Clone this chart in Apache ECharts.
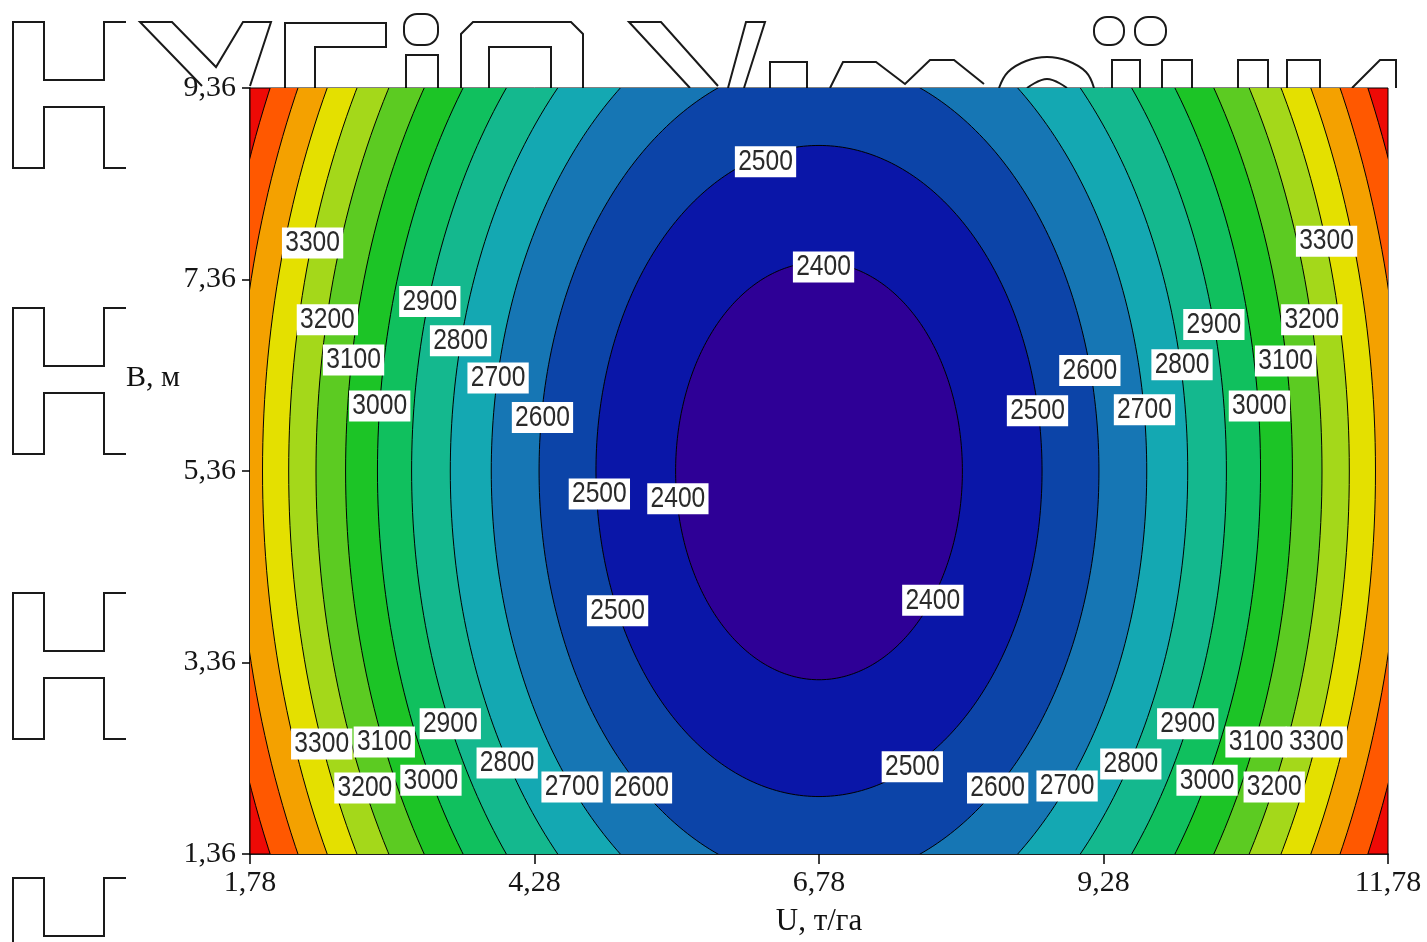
<!DOCTYPE html>
<html><head><meta charset="utf-8">
<script src="https://cdn.jsdelivr.net/npm/echarts@6/dist/echarts.min.js"></script>
<style>html,body{margin:0;padding:0;background:#fff}#c{width:1427px;height:942px}</style>
</head><body><div id="c"></div>
<script>
// ---- data ----
const centerU = 6.78, centerB = 5.36;               // centre of the elliptic contours
const levels = [3600, 3500, 3400, 3300, 3200, 3100, 3000, 2900, 2800, 2700, 2600, 2500, 2400];
const semiU  = [5.34, 5.12, 4.89, 4.66, 4.42, 4.16, 3.88, 3.58, 3.24, 2.88, 2.46, 1.96, 1.26];
const semiB  = [9.32, 8.94, 8.55, 8.15, 7.72, 7.25, 6.76, 6.24, 5.67, 5.03, 4.29, 3.40, 2.18];
const outsideColor = '#EE0A06';
const bandColors = ['#FF5800', '#F4A100', '#E4E000', '#A4D81A', '#5CCB22', '#1CC426',
                    '#10C05E', '#14B88E', '#14A8B2', '#1676B4', '#0C44A8', '#0A16A8', '#2E0096'];
const labelU = [2.33, 2.46, 2.69, 2.92, 3.36, 3.63, 3.96, 4.35, 4.85, 5.54, 6.31, 6.82, 5.01, 7.78,
                11.24, 11.11, 10.88, 10.65, 10.25, 9.97, 9.64, 9.16, 8.70,
                2.41, 2.96, 3.54, 2.79, 3.37, 4.04, 4.61, 5.22,
                7.60, 8.35, 8.96, 9.52, 10.02, 10.62, 11.15, 10.19, 10.78];
const labelB = [7.74, 6.94, 6.52, 6.04, 7.13, 6.72, 6.33, 5.92, 5.12, 5.07, 8.59, 7.49, 3.90, 4.01,
                7.76, 6.94, 6.51, 6.04, 6.89, 6.47, 6.00, 6.41, 5.99,
                2.51, 2.53, 2.72, 2.05, 2.13, 2.31, 2.06, 2.05,
                2.27, 2.05, 2.07, 2.30, 2.72, 2.53, 2.53, 2.13, 2.06];
const labelText = ['3300','3200','3100','3000','2900','2800','2700','2600','2500','2400','2500','2400','2500','2400',
                   '3300','3200','3100','3000','2900','2800','2700','2600','2500',
                   '3300','3100','2900','3200','3000','2800','2700','2600',
                   '2500','2600','2700','2800','2900','3100','3300','3000','3200'];
const uMin = 1.78, uMax = 11.78, uStep = 2.5;
const bMin = 1.36, bMax = 9.36, bStep = 2;
const uName = 'U, т/га', bName = 'B, м';

// ---- chart ----
const chart = echarts.init(document.getElementById('c'), null, {renderer: 'canvas'});
const comma = v => v.toFixed(2).replace('.', ',');
const serif = '"Liberation Serif", "Times New Roman", serif';

// background outlined glyph fragments (decoration of the scanned page)
function hShape(t) {
  return [[126,t],[104,t],[104,t+58],[44,t+58],[44,t],[13,t],[13,t+146],[44,t+146],[44,t+85],[104,t+85],[104,t+146],[126,t+146]];
}
const decoLines = [
  hShape(22), hShape(308), hShape(593), hShape(878),
  [[202,86],[140,22],[172,22],[216,67],[243,22],[271,22],[250,86]],
  [[315,88],[315,47],[386,47],[386,23],[285,23],[285,88]],
  [[406,88],[406,55],[438,55],[438,88]],
  [[461,88],[461,34],[473,22],[571,22],[583,34],[583,88]],
  [[489,88],[489,47],[551,47],[551,88]],
  [[690,88],[629,22],[661,22],[718,86]],
  [[728,88],[746,22],[765,22],[744,88]],
  [[770,88],[770,62],[807,62],[807,88]],
  [[830,88],[843,62],[876,62],[905,84],[930,60],[954,60],[984,84]],
  [[1112,88],[1112,60],[1140,60],[1140,88]],
  [[1162,88],[1162,60],[1192,60],[1192,88]],
  [[1238,88],[1238,60],[1268,60],[1268,88]],
  [[1287,88],[1287,60],[1320,60],[1320,88]],
  [[1352,88],[1380,60],[1396,60],[1396,88]]
];
const graphics = decoLines.map(p => ({type: 'polyline', z: 0, silent: true,
  shape: {points: p}, style: {stroke: '#1a1a1a', lineWidth: 2, fill: null}}));
graphics.push({type: 'polyline', z: 0, silent: true, shape: {points: [[999,88],[1008,72],[1026,61],[1047,57],[1068,61],[1086,72],[1094,88]], smooth: 0.4}, style: {stroke: '#1a1a1a', lineWidth: 2, fill: null}});
graphics.push({type: 'polyline', z: 0, silent: true, shape: {points: [[1027,88],[1047,79],[1067,88]], smooth: 0.4}, style: {stroke: '#1a1a1a', lineWidth: 2, fill: null}});
[[404,14,34,31],[1094,17,30,28],[1135,17,31,28]].forEach(r => graphics.push({type: 'rect', z: 0, silent: true,
  shape: {x: r[0], y: r[1], width: r[2], height: r[3], r: 13}, style: {stroke: '#1a1a1a', lineWidth: 2, fill: null}}));
// y axis title, placed as in the original (above the middle tick)
graphics.push({type: 'text', z: 5, left: 126, top: 363, silent: true,
  style: {text: bName, font: '30px ' + serif, fill: '#111'}});

const ellipseData = levels.map((l, i) => [centerU, centerB, semiU[i], semiB[i], i]);
const labelData = labelText.map((t, i) => [labelU[i], labelB[i], t]);

chart.setOption({
  animation: false,
  backgroundColor: '#fff',
  graphic: graphics,
  grid: {left: 250, right: 39, top: 88, bottom: 86, show: true, backgroundColor: outsideColor,
         borderColor: '#000', borderWidth: 1, z: 1},
  xAxis: {type: 'value', min: uMin, max: uMax, interval: uStep,
    name: uName, nameLocation: 'middle', nameGap: 52,
    nameTextStyle: {fontFamily: serif, fontSize: 31, color: '#111'},
    axisLine: {show: true, onZero: false, lineStyle: {color: '#000', width: 1.5}},
    axisTick: {show: true, length: 10, lineStyle: {color: '#000', width: 1.5}},
    axisLabel: {formatter: comma, fontFamily: serif, fontSize: 30, color: '#151515', margin: 14,
                showMinLabel: true, showMaxLabel: true},
    splitLine: {show: false}},
  yAxis: {type: 'value', min: bMin, max: bMax, interval: bStep,
    axisLine: {show: true, onZero: false, lineStyle: {color: '#000', width: 1.5}},
    axisTick: {show: true, length: 8, lineStyle: {color: '#000', width: 1.5}},
    axisLabel: {formatter: comma, fontFamily: serif, fontSize: 30, color: '#151515', margin: 14,
                showMinLabel: true, showMaxLabel: true},
    splitLine: {show: false}},
  series: [
    {type: 'custom', clip: true, z: 2, silent: true, data: ellipseData,
     renderItem: function (params, api) {
       const cu = api.value(0), cb = api.value(1), a = api.value(2), b = api.value(3), k = api.value(4);
       const pts = [];
       for (let d = 0; d < 360; d += 1) {
         const t = d * Math.PI / 180;
         pts.push(api.coord([cu + a * Math.cos(t), cb + b * Math.sin(t)]));
       }
       return {type: 'polygon', z2: k, shape: {points: pts},
               style: {fill: bandColors[k], stroke: '#000', lineWidth: 1}};
     }},
    {type: 'custom', clip: true, z: 4, silent: true, data: labelData,
     renderItem: function (params, api) {
       const p = api.coord([api.value(0), api.value(1)]);
       return {type: 'text', x: p[0], y: p[1], scaleX: 0.82, scaleY: 1,
               style: {text: labelText[params.dataIndex], fill: '#2a2a2a',
                       font: '30px "Liberation Sans", Arial, sans-serif', lineHeight: 26,
                       align: 'center', verticalAlign: 'middle', backgroundColor: '#fff', padding: [3, 4, 2, 4]}};
     }}
  ]
});
</script></body></html>
